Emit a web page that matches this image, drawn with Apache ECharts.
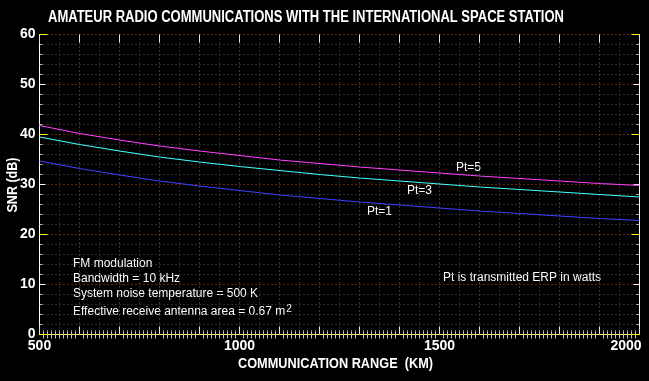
<!DOCTYPE html>
<html><head><meta charset="utf-8">
<script src="https://cdn.jsdelivr.net/npm/echarts@6/dist/echarts.min.js"></script>
<style>html,body{margin:0;padding:0;background:#000;}#c{width:649px;height:381px;}</style>
</head><body><div id="c"></div>
<script>
// ---- data ----
const ranges = [500, 600, 700, 800, 900, 1000, 1100, 1200, 1300, 1400, 1500, 1600, 1700, 1800, 1900, 2000];
const snrPt5 = [41.8, 40.2, 38.9, 37.7, 36.7, 35.8, 34.9, 34.2, 33.5, 32.9, 32.3, 31.7, 31.2, 30.7, 30.2, 29.8];
const snrPt3 = [39.5, 38.0, 36.7, 35.5, 34.5, 33.6, 32.8, 32.0, 31.3, 30.7, 30.1, 29.5, 29.0, 28.5, 28.0, 27.5];
const snrPt1 = [34.7, 33.2, 31.9, 30.7, 29.7, 28.8, 27.9, 27.2, 26.5, 25.9, 25.3, 24.7, 24.2, 23.7, 23.2, 22.8];
const xTickLabels = [500, 1000, 1500, 2000];
const yTickLabels = [0, 10, 20, 30, 40, 50, 60];
const seriesNames = ['Pt=5', 'Pt=3', 'Pt=1'];
const titleText = 'AMATEUR RADIO COMMUNICATIONS WITH THE INTERNATIONAL SPACE STATION';
const xName = 'COMMUNICATION RANGE  (KM)';
const yName = 'SNR (dB)';
const notes = ['FM modulation', 'Bandwidth = 10 kHz', 'System noise temperature = 500 K'];
const note4 = 'Effective receive antenna area = 0.67 m';
const ptNote = 'Pt is transmitted ERP in watts';

// ---- helpers ----
const cv = document.createElement('canvas').getContext('2d');
function fitScale(text, font, target) {
  cv.font = font;
  const w = cv.measureText(text).width;
  return w > 0 ? target / w : 1;
}
const LAB = '"Liberation Sans Narrow", "Liberation Sans", Arial, sans-serif';
const REG = '12px "Liberation Sans", Arial, sans-serif';

const chart = echarts.init(document.getElementById('c'));
const pair = arr => ranges.map((r, i) => [r, arr[i]]);
const colors = ['#ff40ff', '#40ffff', '#4040ff'];
const dataSets = [snrPt5, snrPt3, snrPt1];

const tFont = 'bold 16px "Liberation Sans"';
const xnFont = 'bold 14px "Liberation Sans"';
const ynFont = 'bold 15px "Liberation Sans"';

const dotted = [1, 3];
const ORANGE = '#c85010';
const GRAY = '#555555';
const labStyle = { color: '#fff', fontWeight: 'bold', fontSize: 14, fontFamily: LAB };
const X = { type: 'value', min: 500, max: 2000, interval: 100 };
const off = { axisLine: { show: false }, axisTick: { show: false }, axisLabel: { show: false }, splitLine: { show: false } };
const yellowTicks = len => ({ show: true, inside: true, length: len, lineStyle: { color: '#ffff00', width: 1 } });

chart.setOption({
  backgroundColor: '#000',
  animation: false,
  // half-pixel edges and a 600x300 plot so every tick and grid line lands crisply on a pixel
  grid: { left: 39.5, right: 9.5, top: 34.5, bottom: 46.5, containLabel: false, outerBoundsMode: 'none' },
  xAxis: [
    Object.assign({}, X, off, { // grid: orange every 100, gray at 50s
      position: 'bottom',
      minorTick: { show: false, splitNumber: 2 },
      splitLine: { show: true, lineStyle: { color: ORANGE, type: dotted } },
      minorSplitLine: { show: true, lineStyle: { color: GRAY, type: dotted } }
    }),
    Object.assign({}, X, off, { // bottom line, minor ticks, labels
      position: 'bottom',
      axisLine: { show: true, lineStyle: { color: '#d8b000', width: 1 } },
      minorTick: { show: true, splitNumber: 10, length: 4, lineStyle: { color: '#c0c0c0' } },
      axisLabel: Object.assign({}, labStyle, {
        show: true, margin: 5,
        formatter: v => v === 2000 ? '{r|2000}' : (xTickLabels.includes(v) ? String(v) : ''),
        rich: { r: Object.assign({}, labStyle, { padding: [0, 27, 0, 0] }) }
      })
    }),
    Object.assign({}, X, off, { position: 'bottom', axisTick: yellowTicks(8) }),
    Object.assign({}, X, off, { // top line, minor ticks
      position: 'top',
      axisLine: { show: true, lineStyle: { color: '#f0f080' } },
      minorTick: { show: true, splitNumber: 10, length: 4, lineStyle: { color: '#c8b898' } }
    }),
    Object.assign({}, X, off, { position: 'top', axisTick: yellowTicks(8) })
  ],
  yAxis: [
    {
      type: 'value', position: 'left', min: 0, max: 60, interval: 10,
      axisLine: { show: true, lineStyle: { color: '#ffffff' } },
      axisTick: { show: true, inside: true, length: 6, lineStyle: { color: '#ffffff' } },
      minorTick: { show: true, splitNumber: 5, length: 3, lineStyle: { color: '#c8b898' } },
      splitLine: { show: true, lineStyle: { color: ORANGE, type: dotted } },
      minorSplitLine: { show: true, lineStyle: { color: GRAY, type: dotted } },
      axisLabel: Object.assign({}, labStyle, { margin: 4,
        formatter: v => yTickLabels.includes(v) ? String(v) : '' })
    },
    {
      type: 'value', position: 'left', min: 0, max: 60, interval: 20,
      axisLine: { show: false }, axisLabel: { show: false }, splitLine: { show: false },
      axisTick: yellowTicks(8)
    },
    {
      type: 'value', position: 'right', min: 0, max: 60, interval: 10,
      axisLine: { show: true, lineStyle: { color: '#ffffff' } },
      axisTick: { show: true, inside: true, length: 6, lineStyle: { color: '#ffffff' } },
      minorTick: { show: true, splitNumber: 5, length: 3, lineStyle: { color: '#c8b898' } },
      axisLabel: { show: false }, splitLine: { show: false }
    },
    {
      type: 'value', position: 'right', min: 0, max: 60, interval: 20,
      axisLine: { show: false }, axisLabel: { show: false }, splitLine: { show: false },
      axisTick: yellowTicks(8)
    }
  ],
  series: dataSets.map((d, i) => ({
    name: seriesNames[i], type: 'line', xAxisIndex: 0, yAxisIndex: 0,
    data: pair(d), showSymbol: false, symbol: 'none', z: 5,
    lineStyle: { color: colors[i], width: 1.2 }, silent: true
  })),
  graphic: [
    { type: 'text', x: 48, y: 18, scaleX: fitScale(titleText, tFont, 516),
      style: { text: titleText, fill: '#fff', font: tFont, verticalAlign: 'middle', align: 'left' } },
    { type: 'text', x: 238, y: 364, scaleX: fitScale(xName, xnFont, 195),
      style: { text: xName, fill: '#fff', font: xnFont, verticalAlign: 'middle', align: 'left' } },
    { type: 'text', x: 13, y: 185, rotation: Math.PI / 2, scaleX: fitScale(yName, ynFont, 55),
      style: { text: yName, fill: '#fff', font: ynFont, verticalAlign: 'middle', align: 'center' } },
    ...notes.map((t, i) => ({ type: 'text', x: 73, y: [264, 279, 294][i],
      style: { text: t, fill: '#fff', font: REG, verticalAlign: 'middle', align: 'left' } })),
    { type: 'text', x: 73, y: 304,
      style: { text: note4 + '{sup|2}', fill: '#fff', font: REG,
        verticalAlign: 'top', align: 'left',
        rich: { sup: { fontSize: 10, fontFamily: 'Liberation Sans', fill: '#fff', padding: [0, 0, 6, 1] } } } },
    { type: 'text', x: 443, y: 278,
      style: { text: ptNote, fill: '#fff', font: REG, verticalAlign: 'middle', align: 'left' } },
    ...seriesNames.map((t, i) => ({ type: 'text', x: [456, 407, 367][i], y: [168, 191, 212][i],
      style: { text: t, fill: '#fff', font: REG, verticalAlign: 'middle', align: 'left' } }))
  ]
});
</script>
</body></html>
